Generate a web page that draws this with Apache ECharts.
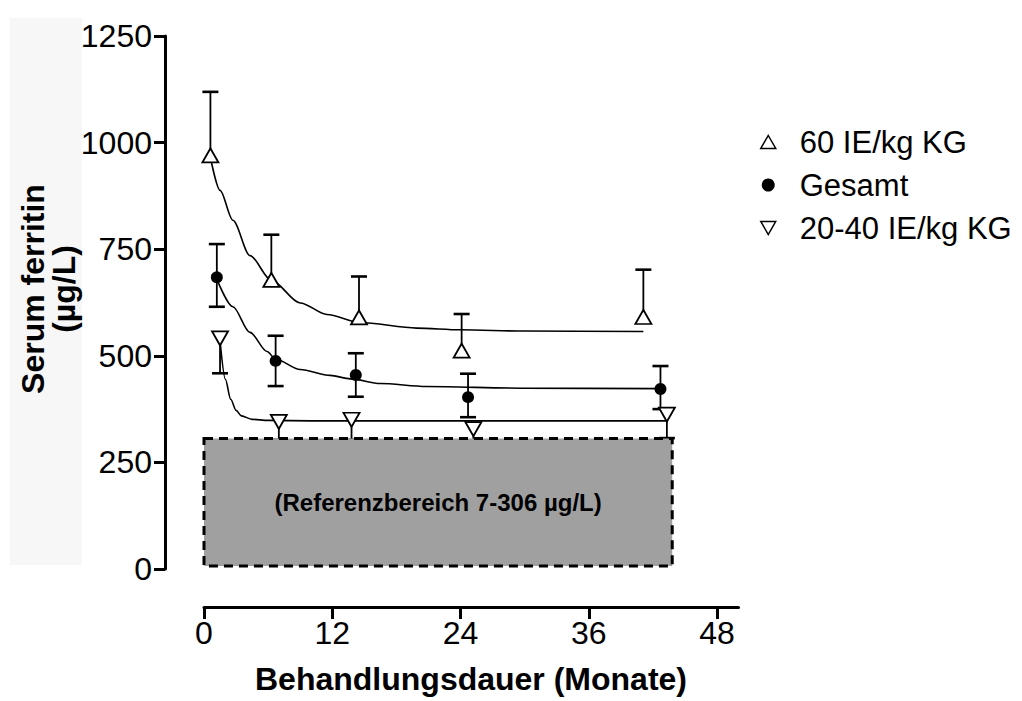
<!DOCTYPE html>
<html>
<head>
<meta charset="utf-8">
<title>Serum ferritin</title>
<script src="https://cdn.jsdelivr.net/npm/echarts@6/dist/echarts.min.js"></script>
<style>
  html, body { margin: 0; padding: 0; background: #fff; }
  #chart { width: 1022px; height: 701px; }
</style>
</head>
<body>
<div id="chart"></div>
<script>
// Axis ticks
const xTicks = [0, 12, 24, 36, 48];
const yTicks = [0, 250, 500, 750, 1000, 1250];

// 60 IE/kg KG: months, mean, upper error end
const months60 = [0.6, 6.3, 14.5, 24.1, 41.1];
const mean60 = [970, 678, 590, 512, 591];
const upper60 = [1119, 784, 686, 598, 702];

// Gesamt: months, mean, upper and lower error ends
const monthsAll = [1.2, 6.7, 14.2, 24.7, 42.7];
const meanAll = [684, 488, 455, 403, 422];
const upperAll = [762, 547, 506, 458, 476];
const lowerAll = [615, 429, 404, 356, 375];

// 20-40 IE/kg KG: months, mean, lower error end
const months2040 = [1.5, 7.0, 13.8, 25.2, 43.3];
const mean2040 = [541, 345, 350, 328, 362];
const lower2040 = [459, 303, 303, 275, 307];

// Fitted decay curves
const fit60Months = [0.6, 1.5, 2.7, 4.3, 6.3, 9.0, 11.5, 14.6, 19.9, 24.0, 30.0, 41.1];
const fit60Values = [965, 888, 818, 735, 677, 624, 597, 578, 565, 561, 558, 557];
const fitAllMonths = [1.2, 2.7, 4.3, 5.9, 6.7, 9.0, 11.8, 13.7, 16.5, 20.8, 30.0, 42.7];
const fitAllValues = [680, 615, 555, 510, 492, 468, 454, 446, 435, 428, 424, 423];
const fit2040Months = [1.5, 2.0, 2.5, 3.0, 3.5, 4.5, 6.0, 10.0, 43.3];
const fit2040Values = [535, 445, 398, 372, 359, 351, 348.5, 347.5, 347.5];

// Reference range
const refMonths = [0, 43.8];
const refRange = [7, 306];
const refLabel = '(Referenzbereich 7-306 µg/L)';

const seriesNames = ['60 IE/kg KG', 'Gesamt', '20-40 IE/kg KG'];

const FONT = '"Liberation Sans", Arial, Helvetica, sans-serif';
const DOWN_TRIANGLE = 'path://M0,0L16,0L8,14Z';

const zip = (xs, ys) => xs.map((x, i) => [x, ys[i]]);

// error bars: [month, start value, capped end value]
const errorData = [];
months60.forEach((m, i) => errorData.push([m, mean60[i], upper60[i]]));
monthsAll.forEach((m, i) => {
  errorData.push([m, meanAll[i], upperAll[i]]);
  errorData.push([m, meanAll[i], lowerAll[i]]);
});
months2040.forEach((m, i) => errorData.push([m, mean2040[i], lower2040[i]]));

function renderErrorBar(params, api) {
  const x = api.value(0);
  const p0 = api.coord([x, api.value(1)]);
  const p1 = api.coord([x, api.value(2)]);
  return {
    type: 'group',
    children: [
      { type: 'line', shape: { x1: p0[0], y1: p0[1], x2: p1[0], y2: p1[1] },
        style: { stroke: '#000', lineWidth: 1.8 } },
      { type: 'line', shape: { x1: p1[0] - 8, y1: p1[1], x2: p1[0] + 8, y2: p1[1] },
        style: { stroke: '#000', lineWidth: 2.6 } }
    ]
  };
}

function renderRefBox(params, api) {
  const a = api.coord([api.value(0), api.value(3)]);
  const b = api.coord([api.value(1), api.value(2)]);
  return {
    type: 'group',
    children: [
      { type: 'rect',
        shape: { x: a[0], y: a[1], width: b[0] - a[0], height: b[1] - a[1] },
        style: { fill: '#a0a0a0', stroke: '#000', lineWidth: 3, lineDash: [9, 6] } },
      { type: 'text',
        style: { text: refLabel, x: (a[0] + b[0]) / 2, y: (a[1] + b[1]) / 2,
                 align: 'center', verticalAlign: 'middle', fill: '#000',
                 fontSize: 24, fontWeight: 'bold', fontFamily: FONT } }
    ]
  };
}

const fitLine = (name, months, values) => ({
  name, type: 'line', data: zip(months, values), symbol: 'none', showSymbol: false,
  smooth: 0.3, smoothMonotone: 'x', silent: true, z: 2,
  lineStyle: { color: '#000', width: 1.6 }
});

const plain = v => String(v);

const chart = echarts.init(document.getElementById('chart'), null, { renderer: 'svg' });

chart.setOption({
  animation: false,
  backgroundColor: '#fff',
  grid: { left: 204, right: 283.5, top: 36, bottom: 132, containLabel: false },
  xAxis: {
    type: 'value', min: 0, max: 50, interval: 12, position: 'bottom', offset: 38,
    axisLine: { show: true, onZero: false, lineStyle: { color: '#000', width: 3 } },
    axisTick: { show: true, length: 12, customValues: xTicks, lineStyle: { color: '#000', width: 3 } },
    axisLabel: { customValues: xTicks, formatter: plain, fontSize: 32, color: '#000', margin: 10, fontFamily: FONT },
    splitLine: { show: false }
  },
  yAxis: {
    type: 'value', min: 0, max: 1250, interval: 250, offset: 39,
    axisLine: { show: true, onZero: false, lineStyle: { color: '#000', width: 3 } },
    axisTick: { show: true, length: 11, customValues: yTicks, lineStyle: { color: '#000', width: 3 } },
    axisLabel: { customValues: yTicks, formatter: plain, fontSize: 32, color: '#000', margin: 13, fontFamily: FONT },
    splitLine: { show: false }
  },
  legend: {
    orient: 'vertical', left: 755, top: 119, itemWidth: 15, itemHeight: 13, itemGap: 7,
    selectedMode: false,
    textStyle: { fontSize: 31, color: '#000', fontFamily: FONT, lineHeight: 36, padding: [0, 0, 0, 19] },
    data: [
      { name: seriesNames[0], icon: 'triangle', itemStyle: { color: '#fff', borderColor: '#000', borderWidth: 1.5, opacity: 1 } },
      { name: seriesNames[1], icon: 'circle', itemStyle: { color: '#000', borderWidth: 0, opacity: 1 } },
      { name: seriesNames[2], icon: DOWN_TRIANGLE, itemStyle: { color: '#fff', borderColor: '#000', borderWidth: 1.5, opacity: 1 } }
    ]
  },
  graphic: [
    { type: 'rect', left: 10, top: 18, z: -10, silent: true,
      shape: { width: 72, height: 547 }, style: { fill: '#f7f7f7' } },
    { type: 'text', x: 48, y: 289, rotation: Math.PI / 2, silent: true,
      style: { text: 'Serum ferritin\n(µg/L)', align: 'center', verticalAlign: 'middle',
               fontSize: 32, fontWeight: 'bold', fontFamily: FONT, lineHeight: 31, fill: '#000' } },
    { type: 'text', x: 471, y: 679, silent: true,
      style: { text: 'Behandlungsdauer (Monate)', align: 'center', verticalAlign: 'middle',
               fontSize: 32, fontWeight: 'bold', fontFamily: FONT, fill: '#000' } }
  ],
  series: [
    fitLine('fit60', fit60Months, fit60Values),
    fitLine('fitAll', fitAllMonths, fitAllValues),
    fitLine('fit2040', fit2040Months, fit2040Values),
    { name: 'errors', type: 'custom', data: errorData, renderItem: renderErrorBar,
      encode: { x: 0, y: [1, 2] }, silent: true, z: 3 },
    { name: 'reference', type: 'custom', data: [[refMonths[0], refMonths[1], refRange[0], refRange[1]]],
      renderItem: renderRefBox, encode: { x: [0, 1], y: [2, 3] }, silent: true, z: 4 },
    { name: seriesNames[0], type: 'scatter', data: zip(months60, mean60), z: 5,
      symbol: 'triangle', symbolSize: [16, 14],
      itemStyle: { color: '#fff', borderColor: '#000', borderWidth: 1.8, opacity: 1 } },
    { name: seriesNames[1], type: 'scatter', data: zip(monthsAll, meanAll), z: 5,
      symbol: 'circle', symbolSize: 12, itemStyle: { color: '#000', opacity: 1 } },
    { name: seriesNames[2], type: 'scatter', data: zip(months2040, mean2040), z: 5,
      symbol: DOWN_TRIANGLE, symbolSize: [16, 14], symbolKeepAspect: false,
      itemStyle: { color: '#fff', borderColor: '#000', borderWidth: 1.8, opacity: 1 } }
  ]
});
</script>
</body>
</html>
